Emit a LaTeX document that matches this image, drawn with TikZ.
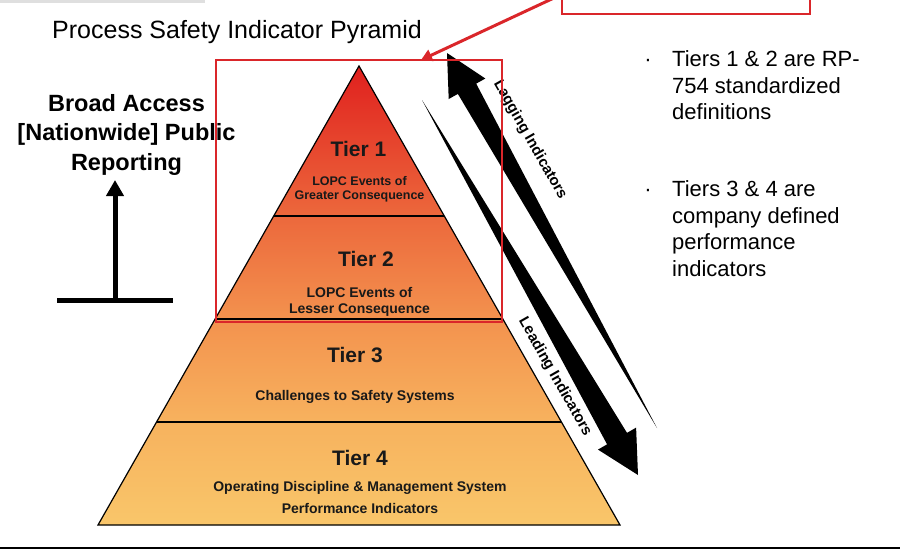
\documentclass[tikz,border=0pt]{standalone}
\usepackage{fontspec}
\setmainfont{Liberation Sans}
\usetikzlibrary{positioning, arrows.meta, calc}
\definecolor{pyrRed}{RGB}{224,32,30}
\definecolor{pyrOne}{RGB}{236,104,60}
\definecolor{pyrTwo}{RGB}{243,146,78}
\definecolor{pyrThree}{RGB}{247,178,94}
\definecolor{pyrFour}{RGB}{249,198,106}
\definecolor{boxRed}{RGB}{218,38,42}
\definecolor{inkDark}{RGB}{25,25,25}
\tikzset{tier title/.style={font=\bfseries\fontsize{21}{24}\selectfont, text=inkDark, anchor=base, inner sep=0pt},
	tier text/.style={font=\bfseries\fontsize{14}{15.5}\selectfont, text=inkDark, anchor=base, inner sep=0pt, align=center},
	side label/.style={font=\bfseries\fontsize{15}{18}\selectfont, rotate=-60.4, inner sep=1.5pt},
	bullet text/.style={font=\fontsize{22}{26.5}\selectfont, anchor=base west, inner sep=0pt, align=left},}

\begin{document}
\begin{tikzpicture}[x=1pt, y=-1pt]
		\useasboundingbox (0,0) rectangle (900,550);
		\fill[gray!25] (0,0) rectangle (205,2.5);
		% Pyramid
		\coordinate (apex) at (359,66);
		\coordinate (bl) at (98,525);
		\coordinate (br) at (620,525);
		\foreach \nm/\f in {a/0.3268, b/0.5512, c/0.7756} {
			\coordinate (\nm L) at ($(apex)!\f!(bl)$);
			\coordinate (\nm R) at ($(apex)!\f!(br)$);
		}
		\shade[top color=pyrRed, bottom color=pyrOne] (apex) -- (aR) -- (aL) -- cycle;
		\shade[top color=pyrOne, bottom color=pyrTwo] (aL) -- (aR) -- (bR) -- (bL) -- cycle;
		\shade[top color=pyrTwo, bottom color=pyrThree] (bL) -- (bR) -- (cR) -- (cL) -- cycle;
		\shade[top color=pyrThree, bottom color=pyrFour] (cL) -- (cR) -- (br) -- (bl) -- cycle;
		\draw[line width=1.2pt] (apex) -- (br) -- (bl) -- cycle;
		\draw[line width=1.2pt] (aL) -- (aR) (bL) -- (bR) (cL) -- (cR);
		% Tiers (multi-line texts sit on their last baseline)
		\node[tier title] (t1) at (358.5,156) {Tier 1};
		\node[tier text, font=\bfseries\fontsize{12.5}{14}\selectfont] (t1txt) at (359.5,199) {LOPC Events of\\Greater Consequence};
		\node[tier title] (t2) at (366,266) {Tier 2};
		\node[tier text] (t2txt) at (359.5,313) {LOPC Events of\\Lesser Consequence};
		\node[tier title] (t3) at (355,362) {Tier 3};
		\node[tier text] (t3txt) at (355,400.5) {Challenges to Safety Systems};
		\node[tier title] (t4) at (360,465) {Tier 4};
		\node[tier text, font=\bfseries\fontsize{14}{22}\selectfont] (t4txt) at (360,513) {Operating Discipline \& Management System\\Performance Indicators};
		% Indicator arrows
		\coordinate (lagTip) at (447,53);
		\coordinate (lagEnd) at (657,428);
		\coordinate (lagBase) at ($(lagTip)!41pt!(lagEnd)$);
		\fill (lagTip) -- ($(lagBase)!21pt!90:(lagEnd)$) -- ($(lagBase)!10.5pt!90:(lagEnd)$) -- (lagEnd)
			-- ($(lagBase)!10.5pt!-90:(lagEnd)$) -- ($(lagBase)!21pt!-90:(lagEnd)$) -- cycle;
		\coordinate (leadTail) at (422,100);
		\coordinate (leadTip) at (638,475);
		\coordinate (leadBase) at ($(leadTip)!42pt!(leadTail)$);
		\fill (leadTip) -- ($(leadBase)!22pt!90:(leadTail)$) -- ($(leadBase)!11.5pt!90:(leadTail)$) -- (leadTail)
			-- ($(leadBase)!11.5pt!-90:(leadTail)$) -- ($(leadBase)!22pt!-90:(leadTail)$) -- cycle;
		\node[side label] (lagLabel) at (530,140) {Lagging Indicators};
		\node[side label, fill=white] (leadLabel) at (555,377) {Leading Indicators};
		% Texts
		\node[font=\fontsize{25}{28}\selectfont, anchor=base west, inner sep=0pt] (title) at (52,38) {Process Safety Indicator Pyramid};
		\node[font=\bfseries\fontsize{23.5}{29.5}\selectfont, anchor=base, align=center, inner sep=0pt] (report) at (126.5,170) {Broad Access\\{}[Nationwide] Public\\Reporting};
		\node[font=\fontsize{22}{26.5}\selectfont, anchor=base, inner sep=0pt] (dot1) at (648,66.7) {·};
		\node[bullet text] (bul1) at (672,119.7) {Tiers 1 \& 2 are RP-\\754 standardized\\definitions};
		\node[font=\fontsize{22}{26.5}\selectfont, anchor=base, inner sep=0pt] (dot2) at (648,196.7) {·};
		\node[bullet text] (bul2) at (672,276.2) {Tiers 3 \& 4 are\\company defined\\performance\\indicators};
		% Reporting arrow
		\coordinate (stemBase) at (115,300);
		\coordinate (stemTip) at (115,180);
		\coordinate (barL) at (57,300);
		\coordinate (barR) at (173,300);
		\draw[line width=5pt] (barL) -- (barR);
		\draw[line width=5pt, -{Triangle[width=17pt, length=16pt]}] (stemBase) -- (stemTip);
		% Red callout
		\coordinate (calloutEnd) at (556,-3);
		\coordinate (boxTop) at (421,60);
		\draw[boxRed, line width=1.5pt] (216,60) rectangle (502,322);
		\draw[boxRed, line width=1.5pt] (562,-10) rectangle (810,14);
		\draw[boxRed, line width=3pt, -{Triangle[width=12pt, length=11pt]}] (calloutEnd) -- (boxTop);
		% Bottom rule
		\draw[line width=2pt] (0,548) -- (900,548);
	\end{tikzpicture}
\end{document}
